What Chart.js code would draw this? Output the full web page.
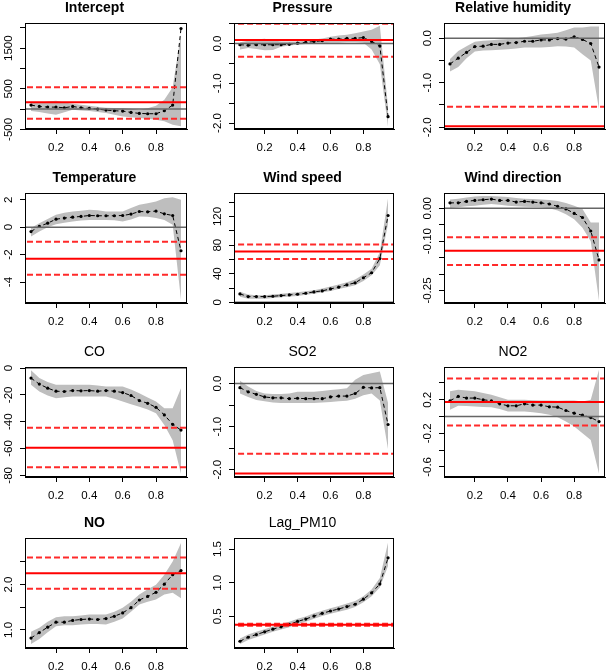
<!DOCTYPE html>
<html>
<head>
<meta charset="utf-8">
<script src="https://cdn.jsdelivr.net/npm/chart.js@4/dist/chart.umd.min.js"></script>
<style>
html,body{margin:0;padding:0;background:#fff;width:609px;height:671px;overflow:hidden;position:relative;}
canvas{position:absolute;}
</style>
</head>
<body>
<script>
// ---------- DATA ----------
const taus = [0.05,0.10,0.15,0.20,0.25,0.30,0.35,0.40,0.45,0.50,0.55,0.60,0.65,0.70,0.75,0.80,0.85,0.90,0.95];
const xTicks = [0.2,0.4,0.6,0.8];
const xTickLabels = ['0.2','0.4','0.6','0.8'];

// Intercept
const interceptCoef = [98,65,49,49,33,65,33,16,0,-25,-41,-49,-82,-106,-114,-114,-41,98,1984];
const interceptHi   = [163,150,190,204,160,130,105,82,60,33,30,24,10,-16,20,82,229,539,1850];
const interceptLo   = [-49,-70,-110,-139,-80,-16,-35,-49,-70,-98,-140,-180,-200,-220,-240,-261,-302,-384,-420];
const interceptOls  = [171,-237,539];
const interceptYTicks = [-500,0,500,1000,1500,2000];
const interceptYLabels = ['-500','','500','','1500',''];

// Pressure
const pressureCoef = [-0.03,-0.04,-0.03,-0.03,-0.03,-0.03,-0.02,0.01,0.03,0.05,0.07,0.11,0.11,0.13,0.13,0.15,0.05,-0.06,-1.84];
const pressureHi   = [0.03,0.07,0.10,0.12,0.08,0.05,0.05,0.05,0.07,0.10,0.13,0.17,0.20,0.22,0.26,0.30,0.35,0.45,-1.60];
const pressureLo   = [-0.15,-0.11,-0.14,-0.17,-0.16,-0.08,-0.05,-0.03,-0.01,0.00,0.01,0.02,0.02,0.03,0.03,0.02,-0.15,-0.52,-2.10];
const pressureOls  = [0.09,-0.33,0.50];
const pressureYTicks = [-2,-1.5,-1,-0.5,0,0.5];
const pressureYLabels = ['-2.0','','-1.0','','0.0',''];

// Relative humidity
const humidityCoef = [-0.58,-0.45,-0.32,-0.19,-0.18,-0.14,-0.14,-0.11,-0.10,-0.07,-0.07,-0.04,-0.04,-0.01,-0.02,0.03,-0.03,-0.12,-0.65];
const humidityHi   = [-0.47,-0.29,-0.18,-0.08,-0.06,-0.05,-0.03,-0.02,0.00,0.02,0.05,0.08,0.10,0.12,0.18,0.24,0.24,0.26,0.26];
const humidityLo   = [-0.75,-0.65,-0.45,-0.30,-0.28,-0.27,-0.26,-0.25,-0.23,-0.21,-0.21,-0.21,-0.20,-0.18,-0.19,-0.21,-0.36,-0.50,-1.60];
const humidityOls  = [-1.98,-2.42,-1.54];
const humidityYTicks = [-2,-1.5,-1,-0.5,0];
const humidityYLabels = ['-2.0','','-1.0','','0.0'];

// Temperature
const temperatureCoef = [-0.32,0.05,0.29,0.58,0.66,0.73,0.78,0.85,0.83,0.83,0.83,0.85,0.95,1.14,1.12,1.17,0.97,0.85,-1.72];
const temperatureHi   = [-0.07,0.29,0.60,0.90,1.05,1.14,1.20,1.26,1.24,1.14,1.14,1.14,1.40,1.63,1.75,1.87,2.10,2.18,2.00];
const temperatureLo   = [-0.68,-0.32,0.00,0.22,0.32,0.41,0.48,0.53,0.53,0.53,0.50,0.41,0.55,0.78,0.75,0.66,0.53,0.17,-5.30];
const temperatureOls  = [-2.30,-3.47,-1.07];
const temperatureYTicks = [-4,-2,0,2];
const temperatureYLabels = ['-4','-2','0','2'];

// Wind speed
const windSpeedCoef = [11.8,8,8,8,8.5,9.4,10.4,11.3,12.7,14.6,16,18.8,21.2,24.5,27.3,34.4,41.4,61.2,121.4];
const windSpeedHi   = [15,11,10,10,11,12,13,14,15.5,17,19.5,22,25,28,32,39,47,70,146];
const windSpeedLo   = [8,5,5,5,6,7,8,9,10.5,12,14,16,18.5,21,24,30,38,52,110];
const windSpeedOls  = [71,60.7,81];
const windSpeedYTicks = [0,20,40,60,80,100,120,140];
const windSpeedYLabels = ['0','','40','','80','','120',''];

// Wind direction
const windDirCoef = [0.0165,0.0165,0.021,0.024,0.026,0.028,0.024,0.024,0.019,0.021,0.019,0.0165,0.013,0.006,-0.002,-0.0155,-0.028,-0.069,-0.157];
const windDirHi   = [0.027,0.029,0.033,0.036,0.037,0.037,0.036,0.034,0.031,0.029,0.028,0.027,0.025,0.022,0.016,0.008,-0.002,-0.043,-0.043];
const windDirLo   = [0.001,0.003,0.006,0.008,0.011,0.013,0.011,0.008,0.006,0.005,0.004,0.003,0.000,-0.007,-0.018,-0.033,-0.059,-0.100,-0.281];
const windDirOls  = [-0.129,-0.1725,-0.088];
const windDirYTicks = [-0.25,-0.20,-0.15,-0.10,-0.05,0];
const windDirYLabels = ['-0.25','','','-0.10','','0.00'];

// CO
const coCoef = [-7.5,-12,-15,-17.3,-17.5,-16.8,-17,-16.8,-17.3,-16.8,-17.3,-18.3,-20.5,-24.3,-26.3,-29.3,-35,-42,-46.3];
const coHi   = [-1.75,-7.5,-10.5,-12.5,-12.5,-12.5,-12.5,-12.5,-13,-13.8,-13.8,-13.8,-16,-18.8,-22,-25,-30,-30,-15];
const coLo   = [-12.5,-17.5,-20.5,-22.5,-21.8,-21.3,-21.3,-21.3,-21.3,-21.3,-23,-25,-27,-28.8,-31,-33.8,-42.5,-53.8,-78.8];
const coOls  = [-59.5,-74,-44.5];
const coYTicks = [-80,-60,-40,-20,0];
const coYLabels = ['-80','-60','-40','-20','0'];

// SO2
const so2Coef = [-0.094,-0.19,-0.25,-0.31,-0.33,-0.33,-0.35,-0.34,-0.35,-0.35,-0.35,-0.31,-0.29,-0.29,-0.23,-0.087,-0.10,-0.094,-0.95];
const so2Hi   = [0.07,-0.07,-0.17,-0.23,-0.24,-0.24,-0.23,-0.19,-0.19,-0.19,-0.17,-0.15,-0.13,-0.11,0.09,0.20,0.24,0.28,-0.45];
const so2Lo   = [-0.23,-0.31,-0.38,-0.41,-0.44,-0.45,-0.45,-0.45,-0.45,-0.45,-0.44,-0.43,-0.41,-0.40,-0.35,-0.27,-0.23,-0.39,-1.53];
const so2Ols  = [-2.09,-2.55,-1.63];
const so2YTicks = [-2,-1.5,-1,-0.5,0];
const so2YLabels = ['-2.0','','-1.0','','0.0'];

// NO2
const no2Coef = [0.188,0.24,0.22,0.22,0.20,0.188,0.152,0.128,0.128,0.152,0.136,0.136,0.116,0.112,0.072,0.04,0.016,-0.012,-0.06];
const no2Hi   = [0.30,0.32,0.31,0.30,0.28,0.26,0.23,0.20,0.20,0.20,0.195,0.192,0.19,0.188,0.19,0.192,0.18,0.20,0.56];
const no2Lo   = [0.08,0.128,0.125,0.12,0.115,0.112,0.09,0.06,0.06,0.06,0.05,0.04,0.02,-0.008,-0.06,-0.12,-0.20,-0.28,-0.68];
const no2Ols  = [0.172,-0.108,0.452];
const no2YTicks = [-0.6,-0.4,-0.2,0,0.2,0.4];
const no2YLabels = ['-0.6','','-0.2','','0.2',''];

// NO
const noCoef = [0.82,0.94,1.06,1.17,1.17,1.21,1.23,1.24,1.23,1.25,1.30,1.375,1.49,1.66,1.74,1.83,2.01,2.22,2.31];
const noHi   = [0.96,1.05,1.18,1.28,1.30,1.30,1.32,1.34,1.34,1.34,1.40,1.49,1.62,1.78,1.90,2.00,2.22,2.51,2.92];
const noLo   = [0.69,0.80,0.95,1.08,1.10,1.10,1.12,1.13,1.13,1.12,1.18,1.25,1.40,1.56,1.62,1.67,1.78,1.82,1.70];
const noOls  = [2.25,1.91,2.60];
const noYTicks = [1.0,1.5,2.0,2.5];
const noYLabels = ['1.0','','2.0',''];

// Lag_PM10
const lagCoef = [0.13,0.19,0.23,0.27,0.31,0.345,0.38,0.425,0.46,0.505,0.545,0.58,0.61,0.645,0.68,0.755,0.85,0.98,1.37];
const lagHi   = [0.17,0.23,0.27,0.31,0.35,0.385,0.42,0.465,0.50,0.545,0.585,0.62,0.655,0.69,0.73,0.80,0.90,1.07,1.60];
const lagLo   = [0.09,0.15,0.19,0.23,0.27,0.305,0.34,0.385,0.42,0.465,0.505,0.54,0.57,0.60,0.64,0.71,0.80,0.93,1.25];
const lagOls  = [0.375,0.36,0.39];
const lagYTicks = [0.5,1.0,1.5];
const lagYLabels = ['0.5','1.0','1.5'];

// ---------- LAYOUT ----------
const rowTop = [23,193,367,538];
const rowBottom = [129,303,477,648];
const colLeft = [25,234,444];
const colRight = [189,396,607];
const X_MIN = 0.014, X_MAX = 0.986;

const panels = [
  {title:'Intercept', bold:true, row:0,col:0, coef:interceptCoef, hi:interceptHi, lo:interceptLo, ols:interceptOls, yt:interceptYTicks, yl:interceptYLabels, ymin:-490, ymax:2120},
  {title:'Pressure', bold:true, row:0,col:1, coef:pressureCoef, hi:pressureHi, lo:pressureLo, ols:pressureOls, yt:pressureYTicks, yl:pressureYLabels, ymin:-2.15, ymax:0.517},
  {title:'Relative humidity', bold:true, row:0,col:2, coef:humidityCoef, hi:humidityHi, lo:humidityLo, ols:humidityOls, yt:humidityYTicks, yl:humidityYLabels, ymin:-2.04, ymax:0.34},
  {title:'Temperature', bold:true, row:1,col:0, coef:temperatureCoef, hi:temperatureHi, lo:temperatureLo, ols:temperatureOls, yt:temperatureYTicks, yl:temperatureYLabels, ymin:-5.53, ymax:2.49},
  {title:'Wind speed', bold:true, row:1,col:1, coef:windSpeedCoef, hi:windSpeedHi, lo:windSpeedLo, ols:windSpeedOls, yt:windSpeedYTicks, yl:windSpeedYLabels, ymin:-0.94, ymax:152.9},
  {title:'Wind direction', bold:true, row:1,col:2, coef:windDirCoef, hi:windDirHi, lo:windDirLo, ols:windDirOls, yt:windDirYTicks, yl:windDirYLabels, ymin:-0.288, ymax:0.0465},
  {title:'CO', bold:false, row:2,col:0, coef:coCoef, hi:coHi, lo:coLo, ols:coOls, yt:coYTicks, yl:coYLabels, ymin:-81.25, ymax:0.75},
  {title:'SO2', bold:false, row:2,col:1, coef:so2Coef, hi:so2Hi, lo:so2Lo, ols:so2Ols, yt:so2YTicks, yl:so2YLabels, ymin:-2.17, ymax:0.386},
  {title:'NO2', bold:false, row:2,col:2, coef:no2Coef, hi:no2Hi, lo:no2Lo, ols:no2Ols, yt:no2YTicks, yl:no2YLabels, ymin:-0.72, ymax:0.59},
  {title:'NO', bold:true, row:3,col:0, coef:noCoef, hi:noHi, lo:noLo, ols:noOls, yt:noYTicks, yl:noYLabels, ymin:0.6, ymax:3.03},
  {title:'Lag_PM10', bold:false, row:3,col:1, coef:lagCoef, hi:lagHi, lo:lagLo, ols:lagOls, yt:lagYTicks, yl:lagYLabels, ymin:0.03, ymax:1.665}
];

const FONT = '"Liberation Sans", Arial, Helvetica, sans-serif';
const Y_AXIS_W = 25, X_AXIS_H = 25, TITLE_H = 24, PAD_R = 2;

const boxPlugin = {
  id: 'rbox',
  afterDraw(chart) {
    const ctx = chart.ctx, a = chart.chartArea;
    ctx.save();
    ctx.strokeStyle = '#000';
    ctx.lineWidth = 1;
    ctx.strokeRect(Math.round(a.left) + 0.5, Math.round(a.top) + 0.5,
                   Math.round(a.right) - Math.round(a.left) - 1, Math.round(a.bottom) - Math.round(a.top) - 1);
    // rotated y tick labels (R style), placed through the y scale
    const s = chart.scales.y;
    const labels = chart.options.plugins.rbox.labels;
    const ticksV = chart.options.plugins.rbox.ticks;
    ctx.fillStyle = '#000';
    ctx.font = '11.5px ' + FONT;
    ctx.textAlign = 'center';
    ctx.textBaseline = 'middle';
    s.ticks.forEach(t => {
      const i = ticksV.indexOf(t.value);
      const lab = i >= 0 ? labels[i] : '';
      if (!lab) return;
      const py = s.getPixelForValue(t.value);
      ctx.save();
      ctx.translate(a.left - 16.5, py);
      ctx.rotate(-Math.PI / 2);
      ctx.fillText(lab, 0, 0);
      ctx.restore();
    });
    ctx.restore();
  }
};

function pts(xs, ys) { return xs.map((x, i) => ({x: x, y: ys[i]})); }
function hline(v) { return [{x: -1, y: v}, {x: 2, y: v}]; }

panels.forEach(p => {
  const L = colLeft[p.col], R = colRight[p.col], T = rowTop[p.row], B = rowBottom[p.row];
  const cv = document.createElement('canvas');
  const w = R - L + Y_AXIS_W + PAD_R;
  const h = B - T + TITLE_H + X_AXIS_H;
  cv.width = w; cv.height = h;
  cv.style.width = w + 'px'; cv.style.height = h + 'px';
  cv.style.left = (L - Y_AXIS_W) + 'px';
  cv.style.top = (T - TITLE_H) + 'px';
  document.body.appendChild(cv);

  const redW = 2;
  new Chart(cv, {
    type: 'line',
    data: {
      datasets: [
        {data: pts(taus, p.hi), fill: '+1', backgroundColor: '#bebebe', borderWidth: 0, borderColor: 'rgba(0,0,0,0)', pointRadius: 0, order: 6},
        {data: pts(taus, p.lo), fill: false, borderWidth: 0, borderColor: 'rgba(0,0,0,0)', pointRadius: 0, order: 7},
        {data: pts(taus, p.coef), fill: false, borderColor: '#000', borderWidth: 1, borderDash: [4, 3],
         pointRadius: 1.6, pointBackgroundColor: '#000', pointBorderWidth: 0, order: 4},
        {data: hline(0), fill: false, borderColor: '#666', borderWidth: 1.5, pointRadius: 0, order: 3, clip: 0},
        {data: hline(p.ols[0]), fill: false, borderColor: '#ff0000', borderWidth: redW, pointRadius: 0, order: 1, clip: 0},
        {data: hline(p.ols[1]), fill: false, borderColor: '#ff2a2a', borderWidth: redW, borderDash: [6, 3], pointRadius: 0, order: 2, clip: 0},
        {data: hline(p.ols[2]), fill: false, borderColor: '#ff2a2a', borderWidth: redW, borderDash: [6, 3], pointRadius: 0, order: 2, clip: 0}
      ]
    },
    options: {
      animation: false,
      responsive: false,
      devicePixelRatio: 1,
      events: [],
      layout: {padding: {left: 0, right: PAD_R, top: 0, bottom: 0}},
      plugins: {
        legend: {display: false},
        tooltip: {enabled: false},
        title: {
          display: true, text: p.title, color: '#000',
          font: {family: FONT, size: 14, weight: p.bold ? 'bold' : 'normal', lineHeight: 1},
          padding: {top: 2, bottom: 8}
        },
        rbox: {labels: p.yl, ticks: p.yt}
      },
      scales: {
        x: {
          type: 'linear', min: X_MIN, max: X_MAX,
          afterBuildTicks: s => { s.ticks = xTicks.map(v => ({value: v})); },
          afterFit: s => { s.height = X_AXIS_H; },
          ticks: {
            color: '#000', font: {family: FONT, size: 11.5}, padding: 7, maxRotation: 0, autoSkip: false,
            callback: v => { const i = xTicks.indexOf(v); return i >= 0 ? xTickLabels[i] : ''; }
          },
          grid: {drawOnChartArea: false, drawTicks: true, tickLength: 5, color: '#000', lineWidth: 1},
          border: {display: true, color: '#000', width: 1}
        },
        y: {
          type: 'linear', min: p.ymin, max: p.ymax,
          afterBuildTicks: s => { s.ticks = p.yt.map(v => ({value: v})); },
          afterFit: s => { s.width = Y_AXIS_W; },
          ticks: {display: false},
          grid: {drawOnChartArea: false, drawTicks: true, tickLength: 5, color: '#000', lineWidth: 1},
          border: {display: true, color: '#000', width: 1}
        }
      }
    },
    plugins: [boxPlugin]
  });
});
</script>
</body>
</html>
